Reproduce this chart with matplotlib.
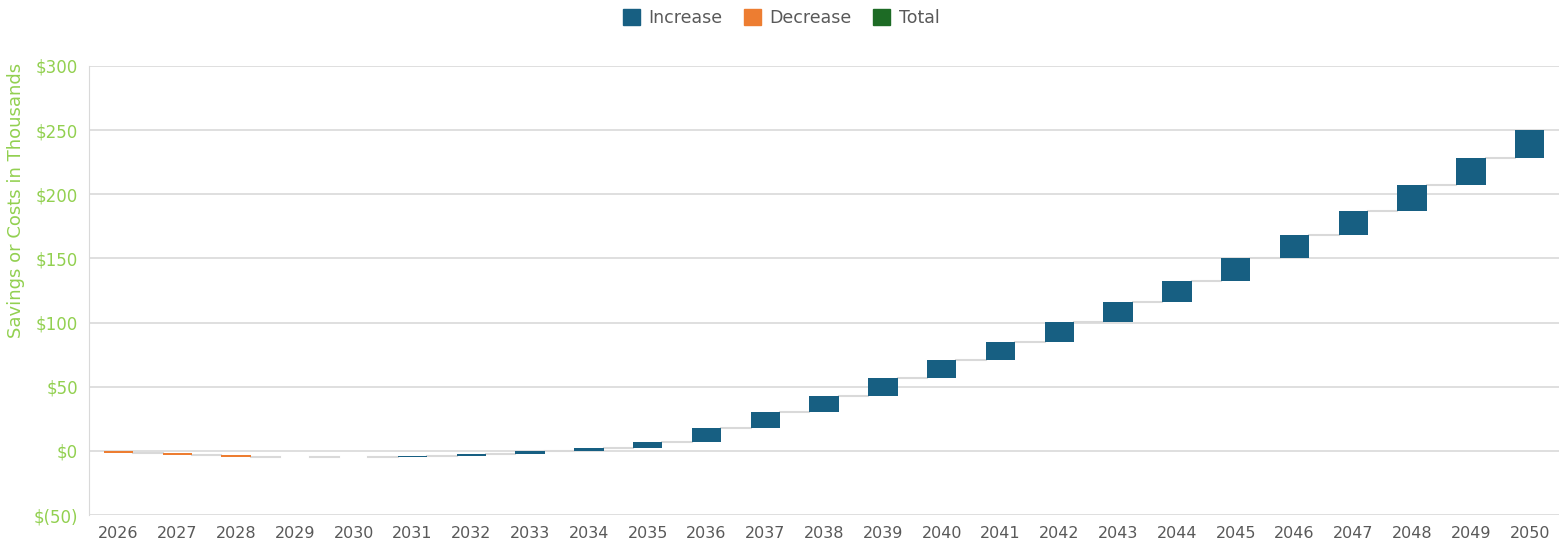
import numpy as np
import matplotlib.pyplot as plt
from matplotlib.patches import Patch
from matplotlib.ticker import FuncFormatter

years = [str(y) for y in range(2026, 2051)]
changes = [-1.5, -2.0, -1.1, -0.4, 0.2, 0.8, 1.4, 2.6, 2.6, 4.2,
           11.1, 12.2, 12.7, 13.7, 14.0, 14.5, 15.3, 15.5, 16.9, 17.5,
           18.4, 18.7, 20.0, 20.9, 21.8]

c_inc = '#175f82'
c_dec = '#ed7d31'
c_tot = '#1d6b25'
c_grid = '#d9d9d9'
c_green = '#92d050'

vals = np.array(changes)
ends = np.cumsum(vals)
starts = ends - vals
x = np.arange(len(years))
w = 0.5

fig = plt.figure(figsize=(15.62, 5.56), dpi=100)
ax = fig.add_axes([0.057, 0.0737, 0.9411, 0.8076])

cols = [c_inc if v >= 0 else c_dec for v in vals]
ax.bar(x, vals, bottom=starts, width=w, color=cols, zorder=3)

# connectors
for i in range(len(x) - 1):
    ax.plot([x[i] + w / 2, x[i + 1] - w / 2], [ends[i], ends[i]],
            color=c_grid, lw=1.5, zorder=2)

ax.set_xlim(-0.5, len(x) - 0.5)
ax.set_ylim(-50, 300)
ax.set_yticks(np.arange(-50, 301, 50))
ax.yaxis.set_major_formatter(FuncFormatter(
    lambda v, p: '$(%d)' % abs(v) if v < 0 else '$%d' % v))
ax.grid(axis='y', color=c_grid, lw=1.2, zorder=0)
ax.set_xticks(x)
ax.set_xticklabels(years)
for s in ['top', 'right', 'bottom']:
    ax.spines[s].set_visible(False)
ax.spines['left'].set_color(c_grid)
ax.tick_params(axis='y', length=0, colors=c_green, labelsize=12, pad=8)
ax.tick_params(axis='x', length=0, colors='#595959', labelsize=11.5, pad=8)
ax.set_ylabel('Savings or Costs in Thousands', color=c_green, fontsize=13)
ax.yaxis.set_label_coords(-0.0435, 0.70)

handles = [Patch(color=c_inc, label='Increase'),
           Patch(color=c_dec, label='Decrease'),
           Patch(color=c_tot, label='Total')]
fig.legend(handles=handles, loc='upper center', ncol=3, frameon=False,
           bbox_to_anchor=(0.5, 1.012), fontsize=12.5, handlelength=1.0,
           handleheight=1.0, handletextpad=0.5, columnspacing=1.2,
           labelcolor='#595959')

fig.savefig('out.png', dpi=100)
